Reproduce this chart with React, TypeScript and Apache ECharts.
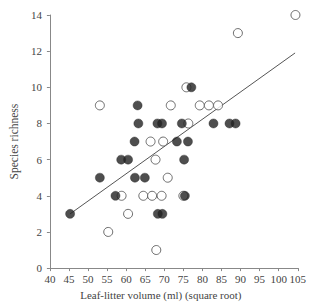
import React, { useEffect, useRef } from "react";
import * as echarts from "echarts";

// Leaf-litter volume (square root of ml) vs. species richness
const openSites: [number, number][] = [
  [53.1, 9], [71.7, 9], [79.3, 9], [81.7, 9], [84.1, 9],
  [75.8, 10], [89.3, 13], [104.4, 14], [76.3, 8],
  [66.4, 7], [69.7, 7], [67.7, 6], [70.9, 5],
  [58.8, 4], [64.5, 4], [66.8, 4], [69.3, 4], [75.0, 4],
  [60.5, 3], [55.3, 2], [67.9, 1],
];

const filledSites: [number, number][] = [
  [63.0, 9], [77.1, 10], [63.2, 8], [68.2, 8], [69.4, 8], [74.6, 8],
  [82.9, 8], [87.1, 8], [88.7, 8], [62.2, 7], [73.3, 7], [76.2, 7],
  [58.7, 6], [60.5, 6], [75.2, 6], [53.1, 5], [62.3, 5], [64.9, 5],
  [57.2, 4], [75.4, 4], [45.3, 3], [68.3, 3], [69.5, 3],
];

// Least-squares fit drawn between its two end points
const fitLine: [number, number][] = [
  [45.3, 3.0],
  [104.3, 11.9],
];

const xTicks = { min: 40, max: 105, interval: 5 };
const yTicks = { min: 0, max: 14, interval: 2 };

const serif = "'Liberation Serif', 'DejaVu Serif', serif";

export default function App() {
  const ref = useRef<HTMLDivElement>(null);

  useEffect(() => {
    if (!ref.current) return;
    const chart = echarts.init(ref.current, null, { renderer: "svg" });
    chart.setOption({
      animation: false,
      backgroundColor: "#ffffff",
      grid: { left: 32, right: 6, top: 15, bottom: 33 },
      xAxis: {
        type: "value",
        ...xTicks,
        name: "Leaf-litter volume (ml) (square root)",
        nameLocation: "middle",
        nameGap: 20,
        nameTextStyle: {
          fontFamily: serif,
          fontSize: 11,
          color: "#444",
          padding: [0, 26, 0, 0],
        },
        axisLine: { lineStyle: { color: "#888", width: 1 } },
        axisTick: { show: true, length: 3, lineStyle: { color: "#888" } },
        axisLabel: {
          fontFamily: serif,
          fontSize: 11,
          color: "#444",
          margin: 5,
          showMaxLabel: true,
        },
        splitLine: { show: false },
      },
      yAxis: {
        type: "value",
        ...yTicks,
        name: "Species richness",
        nameLocation: "middle",
        nameGap: 19,
        nameRotate: 90,
        nameTextStyle: { fontFamily: serif, fontSize: 11.5, color: "#444" },
        axisLine: { show: true, lineStyle: { color: "#888", width: 1 } },
        axisTick: { show: true, length: 3, lineStyle: { color: "#888" } },
        axisLabel: { fontFamily: serif, fontSize: 11, color: "#444", margin: 8 },
        splitLine: { show: false },
      },
      series: [
        {
          type: "line",
          data: fitLine,
          symbol: "none",
          lineStyle: { color: "#555", width: 1 },
          z: 1,
        },
        {
          type: "scatter",
          data: openSites,
          symbol: "circle",
          symbolSize: 9,
          itemStyle: { color: "#ffffff", borderColor: "#4a4a4a", borderWidth: 1 },
          z: 2,
        },
        {
          type: "scatter",
          data: filledSites,
          symbol: "circle",
          symbolSize: 9,
          itemStyle: { color: "#222222", borderColor: "#222222", borderWidth: 0.5 },
          z: 3,
        },
      ],
    });
    return () => chart.dispose();
  }, []);

  return (
    <div
      ref={ref}
      style={{ position: "fixed", left: 0, top: 0, width: 309, height: 305 }}
    />
  );
}
